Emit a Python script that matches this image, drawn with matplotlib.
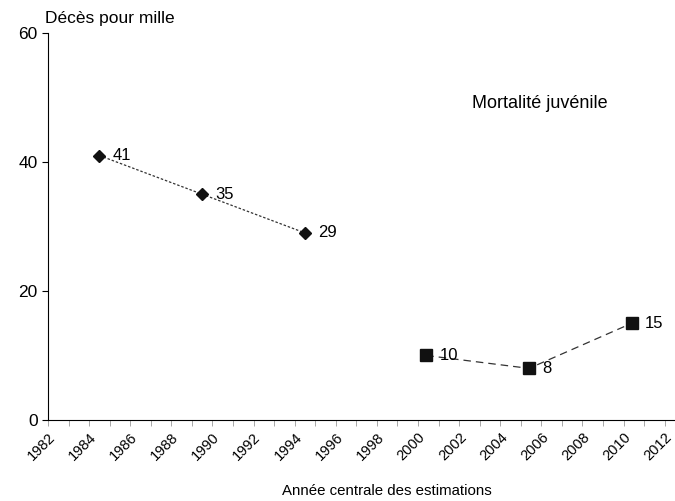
import numpy as np
import matplotlib.pyplot as plt
from matplotlib.ticker import MultipleLocator

plt.rcParams['font.family'] = ['Liberation Sans', 'DejaVu Sans']

yr1 = [1984.5, 1989.5, 1994.5]
val1 = [41, 35, 29]
yr2 = [2000.4, 2005.4, 2010.4]
val2 = [10, 8, 15]
xticks = list(range(1982, 2013, 2))

fig = plt.figure(figsize=(6.75, 5.01), dpi=100)
ax = fig.add_axes([0.0711, 0.1617, 0.9289, 0.7725])

ax.plot(yr1, val1, color='#333333', lw=0.9, ls=(0, (2, 1.5)),
        marker='D', ms=6, mfc='#111111', mec='#111111')
ax.plot(yr2, val2, color='#333333', lw=0.9, ls=(0, (6, 4)),
        marker='s', ms=8, mfc='#111111', mec='#111111')

for x, v in zip(yr1, val1):
    ax.text(x + 0.62, v, str(v), fontsize=12, va='center', ha='left')
for x, v in zip(yr2, val2):
    ax.text(x + 0.65, v, str(v), fontsize=12, va='center', ha='left')

ax.set_xlim(1982, 2012.5)
ax.set_ylim(0, 60)
ax.set_xticks(xticks)
ax.set_xticklabels([str(t) for t in xticks], rotation=45, ha='right',
                   rotation_mode='anchor', fontsize=10.5)
ax.xaxis.set_minor_locator(MultipleLocator(1))
ax.set_yticks([0, 20, 40, 60])
ax.tick_params(axis='y', labelsize=12.5, length=4, width=0.8)
ax.tick_params(axis='x', which='both', length=4, width=0.6, color='#999999')
ax.spines['top'].set_visible(False)
ax.spines['right'].set_visible(False)

fig.text(0.0667, 0.955, 'Décès pour mille', fontsize=12.5, ha='left', va='baseline')
fig.text(0.700, 0.785, 'Mortalité juvénile', fontsize=13, ha='left', va='baseline')
fig.text(0.573, 0.012, 'Année centrale des estimations', fontsize=10.8,
         ha='center', va='baseline')

fig.savefig('out.png', dpi=100)
